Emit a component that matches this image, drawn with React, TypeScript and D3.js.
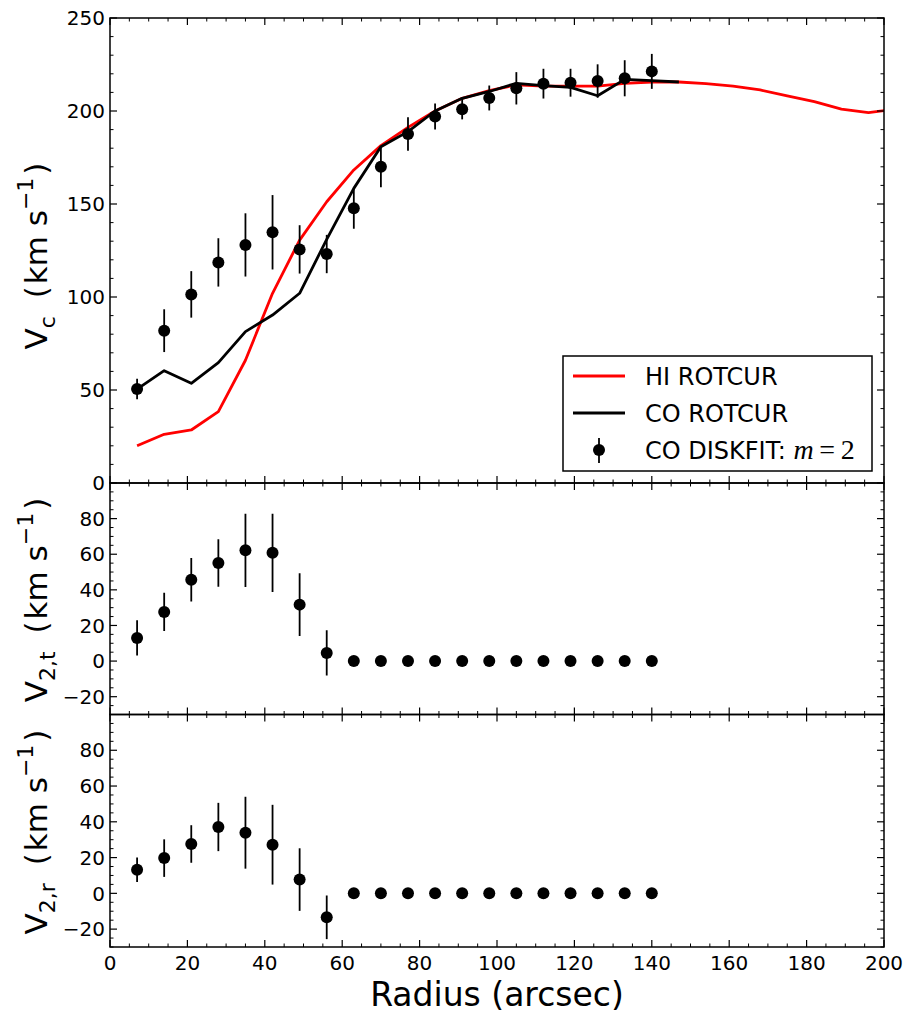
import React from "react";
import * as d3 from "d3";

// ---------- data ----------
const diskRadius = [7, 14, 21, 28, 35, 42, 49, 56, 63, 70, 77, 84, 91, 98, 105, 112, 119, 126, 133, 140];
const diskVc = [50.5, 81.9, 101.4, 118.6, 128, 134.8, 125.6, 123.1, 147.7, 170, 187.6, 197, 201, 207, 212.2, 214.7, 215.2, 216.1, 217.6, 221.3];
const diskVcErr = [5.5, 11.5, 12.5, 13, 17, 20, 13, 10.3, 11, 11, 9, 7, 5.5, 6.7, 8.7, 8, 7.5, 9, 9.7, 9.4];
const diskV2t = [13.0, 27.6, 45.7, 55.1, 62.2, 60.8, 31.7, 4.6, 0, 0, 0, 0, 0, 0, 0, 0, 0, 0, 0, 0];
const diskV2tErr = [9.9, 10.7, 12.2, 13.3, 20.6, 22, 17.6, 12.7, 0, 0, 0, 0, 0, 0, 0, 0, 0, 0, 0, 0];
const diskV2r = [13.2, 19.7, 27.6, 37.1, 33.9, 27.2, 7.7, -13.4, 0, 0, 0, 0, 0, 0, 0, 0, 0, 0, 0, 0];
const diskV2rErr = [6.8, 10.5, 10.5, 13.5, 20.1, 22.3, 17.5, 12.2, 0, 0, 0, 0, 0, 0, 0, 0, 0, 0, 0, 0];

const coRadius = [7, 14, 21, 28, 35, 42, 49, 56, 63, 70, 77, 84, 91, 98, 105, 112, 119, 126, 133, 140, 147];
const coV = [50.5, 60.4, 53.6, 64.7, 81.4, 90.3, 102, 131, 158.4, 180.8, 188.9, 200, 206.8, 210.5, 214.9, 213.6, 212.7, 208.2, 217, 216.3, 215.6];

const hiRadius = [7, 14, 21, 28, 35, 42, 49, 56, 63, 70, 77, 84, 91, 98, 105, 112, 119, 126, 133, 140, 147, 154, 161, 168, 175, 182, 189, 196, 203];
const hiV = [20, 26.2, 28.5, 38.4, 66, 102, 130.6, 151.2, 168.3, 181.4, 191.2, 200, 206.8, 211, 214, 213.4, 213.4, 213.4, 214.9, 215.6, 215.6, 214.7, 213.4, 211.3, 208.1, 205, 201, 199.1, 201];

const xTicks = [0, 20, 40, 60, 80, 100, 120, 140, 160, 180, 200];
const vcTicks = [0, 50, 100, 150, 200, 250];
const v2Ticks = [-20, 0, 20, 40, 60, 80];

const legendLabels = ["HI ROTCUR", "CO ROTCUR", "CO DISKFIT: "];

// ---------- layout ----------
const W = 914;
const H = 1018;
const L = 110;
const R = 884;
const FONT = "DejaVu Sans";
const fmt = (v: number) => (v < 0 ? "\u2212" + Math.abs(v) : String(v));

const x = d3.scaleLinear().domain([0, 200]).range([L, R]);

type PanelProps = {
  top: number;
  bottom: number;
  domain: [number, number];
  majors: number[];
  minorStep: number;
  showX: boolean;
  clipId: string;
  children?: React.ReactNode;
  y: d3.ScaleLinear<number, number>;
};

function Panel({ top, bottom, domain, majors, minorStep, showX, clipId, children, y }: PanelProps) {
  const xMinor = d3.range(0, 200.001, 5).filter((v) => v % 20 !== 0);
  const yMinor = d3.range(domain[0], domain[1] + 0.001, minorStep).filter((v) => !majors.includes(v) && v % (majors[1] - majors[0]) !== 0);
  const maj = 7;
  const min = 3.5;
  return (
    <g>
      <defs>
        <clipPath id={clipId}>
          <rect x={L} y={top} width={R - L} height={bottom - top} />
        </clipPath>
      </defs>
      <g clipPath={`url(#${clipId})`}>{children}</g>
      {xTicks.map((v) => (
        <g key={"xm" + v}>
          <line x1={x(v)} x2={x(v)} y1={bottom} y2={bottom - maj} stroke="#000" strokeWidth={1.2} />
          <line x1={x(v)} x2={x(v)} y1={top} y2={top + maj} stroke="#000" strokeWidth={1.2} />
        </g>
      ))}
      {xMinor.map((v) => (
        <g key={"xn" + v}>
          <line x1={x(v)} x2={x(v)} y1={bottom} y2={bottom - min} stroke="#000" strokeWidth={1} />
          <line x1={x(v)} x2={x(v)} y1={top} y2={top + min} stroke="#000" strokeWidth={1} />
        </g>
      ))}
      {majors.map((v) => (
        <g key={"ym" + v}>
          <line x1={L} x2={L + maj} y1={y(v)} y2={y(v)} stroke="#000" strokeWidth={1.2} />
          <line x1={R} x2={R - maj} y1={y(v)} y2={y(v)} stroke="#000" strokeWidth={1.2} />
          <text x={L - 5} y={y(v)} dy="0.36em" textAnchor="end" fontFamily={FONT} fontSize={20}>
            {fmt(v)}
          </text>
        </g>
      ))}
      {yMinor.map((v) => (
        <g key={"yn" + v}>
          <line x1={L} x2={L + min} y1={y(v)} y2={y(v)} stroke="#000" strokeWidth={1} />
          <line x1={R} x2={R - min} y1={y(v)} y2={y(v)} stroke="#000" strokeWidth={1} />
        </g>
      ))}
      {showX &&
        xTicks.map((v) => (
          <text key={"xl" + v} x={x(v)} y={bottom + 23} textAnchor="middle" fontFamily={FONT} fontSize={20}>
            {v}
          </text>
        ))}
      <rect x={L} y={top} width={R - L} height={bottom - top} fill="none" stroke="#000" strokeWidth={1.5} />
    </g>
  );
}

function Points({ xs, ys, errs, y }: { xs: number[]; ys: number[]; errs: number[]; y: d3.ScaleLinear<number, number> }) {
  return (
    <g>
      {xs.map((r, i) => (
        <g key={i}>
          {errs[i] > 0 && (
            <line x1={x(r)} x2={x(r)} y1={y(ys[i] - errs[i])} y2={y(ys[i] + errs[i])} stroke="#000" strokeWidth={1.8} />
          )}
          <circle cx={x(r)} cy={y(ys[i])} r={6} fill="#000" />
        </g>
      ))}
    </g>
  );
}

function YLabel({ cx, cy, sub }: { cx: number; cy: number; sub: string }) {
  return (
    <text
      transform={`translate(${cx},${cy}) rotate(-90)`}
      textAnchor="middle"
      fontFamily={FONT}
      fontSize={31}
    >
      <tspan>V</tspan>
      <tspan fontSize={22} dy={8}>{sub}</tspan>
      <tspan dy={-8} dx={8}>{" ("}</tspan>
      <tspan dx={2}>{"km s"}</tspan>
      <tspan fontSize={22} dy={-14}>{"\u22121"}</tspan>
      <tspan dy={14} dx={3}>{")"}</tspan>
    </text>
  );
}

export default function App() {
  const yTop = d3.scaleLinear().domain([0, 250]).range([483, 18]);
  const yMid = d3.scaleLinear().domain([-30, 100]).range([714.5, 483]);
  const yBot = d3.scaleLinear().domain([-30, 100]).range([947, 714.5]);

  const line = (ys: number[], xs: number[]) =>
    d3
      .line<number>()
      .x((_, i) => x(xs[i]))
      .y((v) => yTop(v))(ys) || "";

  return (
    <svg width={W} height={H} style={{ position: "absolute", left: 0, top: 0, background: "#fff" }}>
      <rect x={0} y={0} width={W} height={H} fill="#fff" />
      <Panel top={18} bottom={483} domain={[0, 250]} majors={vcTicks} minorStep={10} showX={false} clipId="c1" y={yTop}>
        <path d={line(hiV, hiRadius)} fill="none" stroke="#ff0000" strokeWidth={2.8} strokeLinejoin="round" />
        <path d={line(coV, coRadius)} fill="none" stroke="#000" strokeWidth={2.8} strokeLinejoin="round" />
        <Points xs={diskRadius} ys={diskVc} errs={diskVcErr} y={yTop} />
      </Panel>
      <Panel top={483} bottom={714.5} domain={[-30, 100]} majors={v2Ticks} minorStep={5} showX={false} clipId="c2" y={yMid}>
        <Points xs={diskRadius} ys={diskV2t} errs={diskV2tErr} y={yMid} />
      </Panel>
      <Panel top={714.5} bottom={947} domain={[-30, 100]} majors={v2Ticks} minorStep={5} showX={true} clipId="c3" y={yBot}>
        <Points xs={diskRadius} ys={diskV2r} errs={diskV2rErr} y={yBot} />
      </Panel>

      <g>
        <rect x={563} y={356} width={309} height={115} fill="#fff" stroke="#000" strokeWidth={1.5} />
        <line x1={573} x2={625} y1={376} y2={376} stroke="#ff0000" strokeWidth={2.8} />
        <text x={645} y={376} dy="0.36em" fontFamily={FONT} fontSize={24}>{legendLabels[0]}</text>
        <line x1={573} x2={625} y1={413} y2={413} stroke="#000" strokeWidth={2.8} />
        <text x={645} y={413} dy="0.36em" fontFamily={FONT} fontSize={24}>{legendLabels[1]}</text>
        <line x1={599} x2={599} y1={438} y2={463} stroke="#000" strokeWidth={1.8} />
        <circle cx={599} cy={450} r={6} fill="#000" />
        <text x={645} y={450} dy="0.36em" fontFamily={FONT} fontSize={24}>
          {legendLabels[2]}
          <tspan fontFamily="Liberation Serif" fontStyle="italic" fontSize={28}>m</tspan>
          <tspan fontFamily="Liberation Serif" fontSize={28}>{"\u2009=\u20092"}</tspan>
        </text>
      </g>

      <YLabel cx={47} cy={256} sub="c" />
      <YLabel cx={47} cy={600} sub="2,t" />
      <YLabel cx={47} cy={832} sub="2,r" />

      <text x={(L + R) / 2} y={1006} textAnchor="middle" fontFamily={FONT} fontSize={33}>
        Radius (arcsec)
      </text>
    </svg>
  );
}
